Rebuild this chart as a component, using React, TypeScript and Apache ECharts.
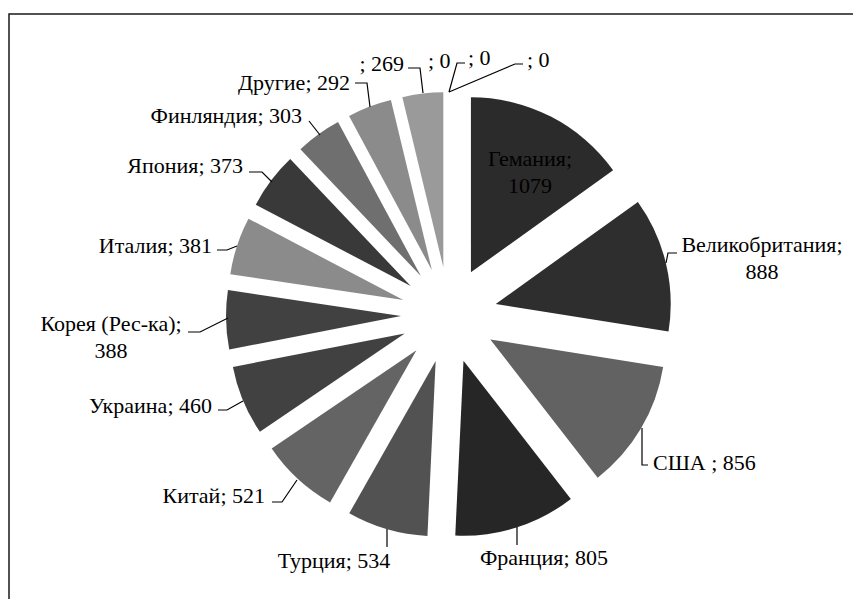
import React, { useEffect, useRef } from "react";
import * as echarts from "echarts";

// ---- data ----
const categories = [
  "Гемания",
  "Великобритания",
  "США ",
  "Франция",
  "Турция",
  "Китай",
  "Украина",
  "Корея (Рес-ка)",
  "Италия",
  "Япония",
  "Финляндия",
  "Другие",
  "",
  "",
  "",
  "",
];
const values = [1079, 888, 856, 805, 534, 521, 460, 388, 381, 373, 303, 292, 269, 0, 0, 0];

// ---- styles / layout (not data) ----
const colors = [
  "#2b2b2b", "#2e2e2e", "#626262", "#262626", "#525252", "#646464", "#414141", "#414141",
  "#8b8b8b", "#393939", "#6f6f6f", "#8b8b8b", "#9a9a9a", "#9a9a9a", "#9a9a9a", "#9a9a9a",
];
const wrapLabel = [true, true, false, false, false, false, false, true, false, false, false, false, false, false, false, false];

// label anchor: x, y (middle), align
const labelAnchors: [number, number, string][] = [
  [530, 172, "center"],
  [762, 258, "center"],
  [653, 462, "left"],
  [544, 557, "center"],
  [334, 560, "center"],
  [265, 495, "right"],
  [212, 405, "right"],
  [111, 337, "center"],
  [212, 245, "right"],
  [243, 165, "right"],
  [302, 115, "right"],
  [350, 82, "right"],
  [404, 63, "right"],
  [428, 60, "left"],
  [468, 57, "left"],
  [527, 59, "left"],
];
const leaderLines: (number[][] | null)[] = [
  null,
  [[666, 263], [668, 253], [677, 253]],
  [[642, 428], [642, 465], [648, 465]],
  [[517, 527], [517, 545]],
  [[387, 529], [387, 547]],
  [[297, 480], [282, 502], [272, 502]],
  [[243, 401], [227, 410], [218, 410]],
  [[228, 318], [200, 332], [188, 332]],
  [[237, 246], [227, 250], [217, 250]],
  [[272, 182], [262, 172], [249, 172]],
  [[320, 135], [309, 121]],
  [[370, 107], [367, 83], [355, 83]],
  [[423, 93], [420, 68], [408, 68]],
  null,
  [[449, 92], [457, 63], [465, 63]],
  [[449, 92], [515, 64], [523, 64]],
];

const FONT = "Liberation Serif, serif";

export default function App() {
  const ref = useRef<HTMLDivElement>(null);
  useEffect(() => {
    if (!ref.current) return;
    const chart = echarts.init(ref.current, null, { renderer: "svg" });
    const data = values.map((v, i) => ({
      name: categories[i],
      value: v,
      selected: true,
      itemStyle: { color: colors[i] },
    }));
    const labelTexts = values.map((v, i) =>
      wrapLabel[i] ? `${categories[i]};\n${v}` : `${categories[i]}; ${v}`
    );
    const graphics: any[] = [
      {
        type: "rect",
        silent: true,
        z: 100,
        shape: { x: 9, y: 14, width: 900, height: 700 },
        style: { fill: "none", stroke: "#1a1a1a", lineWidth: 1.5 },
      },
    ];
    labelTexts.forEach((t, i) => {
      const a = labelAnchors[i];
      graphics.push({
        type: "text",
        silent: true,
        z: 110,
        x: a[0],
        y: a[1],
        style: {
          text: t,
          fill: "#000",
          fontFamily: FONT,
          fontSize: 22,
          lineHeight: 27,
          align: a[2],
          verticalAlign: "middle",
        },
      });
      const pts = leaderLines[i];
      if (pts) {
        graphics.push({
          type: "polyline",
          silent: true,
          z: 110,
          shape: { points: pts },
          style: { stroke: "#000", lineWidth: 1.2, fill: "none" },
        });
      }
    });
    chart.setOption({
      animation: false,
      backgroundColor: "#ffffff",
      graphic: graphics,
      series: [
        {
          type: "pie",
          center: [449, 315],
          radius: 175,
          startAngle: 90,
          clockwise: true,
          selectedMode: "multiple",
          selectedOffset: 48,
          avoidLabelOverlap: false,
          stillShowZeroSum: true,
          emphasis: { disabled: true, scale: false },
          select: { itemStyle: { borderWidth: 0 } },
          itemStyle: { borderWidth: 0 },
          label: { show: false },
          labelLine: { show: false },
          data,
        },
      ],
    });
    return () => chart.dispose();
  }, []);
  return (
    <div
      ref={ref}
      style={{ position: "absolute", left: 0, top: 0, width: 853, height: 599 }}
    />
  );
}
